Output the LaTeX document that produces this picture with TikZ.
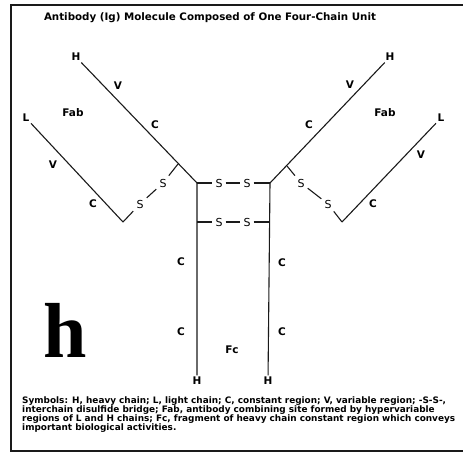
\documentclass[tikz,border=0pt]{standalone}
\usepackage{fontspec}
\setmainfont{DejaVu Sans}
\newfontfamily\bigserif{Liberation Serif}
\usetikzlibrary{positioning}
\definecolor{cInk}{HTML}{1a1a1a}
\tikzset{
  lbl/.style={font=\bfseries\fontsize{10.5}{10.5}\selectfont,inner sep=1.5pt},
  sbond/.style={font=\fontsize{11}{11}\selectfont,inner sep=3pt},
  chain/.style={line width=1.1pt,cInk},
}

\begin{document}
\begin{tikzpicture}[x=1pt,y=-1pt]
  \useasboundingbox (0,0) rectangle (463,457);
  \draw[line width=1.6pt,cInk] (463,5) -- (11,5) -- (11,451) -- (463,451); % frame
  \node[font=\bfseries\fontsize{10.3}{10.3}\selectfont] (title) at (210,18) {Antibody (Ig) Molecule Composed of One Four-Chain Unit};

  % chain ends
  \node[lbl] (hTopL) at (76,57) {H};
  \node[lbl] (hTopR) at (390,57) {H};
  \node[lbl] (lTopL) at (26,118) {L};
  \node[lbl] (lTopR) at (441,118) {L};
  \node[lbl] (hBotL) at (197,381) {H};
  \node[lbl] (hBotR) at (268,381) {H};

  \coordinate (hingeL) at (197,183);
  \coordinate (hingeR) at (270,183);
  \coordinate (bridgeL) at (197,222);
  \coordinate (bridgeR) at (270,222);
  \coordinate (lEndL) at (123,222);
  \coordinate (lEndR) at (342,222);
  \coordinate (hJoinL) at (178,164); % on left heavy chain
  \coordinate (hJoinR) at (287,166); % on right heavy chain

  % disulfide bridges
  \node[sbond] (sA1) at (219,183) {S};
  \node[sbond] (sA2) at (247,183) {S};
  \node[sbond] (sB1) at (219,222) {S};
  \node[sbond] (sB2) at (247,222) {S};
  \node[sbond] (sL1) at (163,183) {S};
  \node[sbond] (sL2) at (140,204) {S};
  \node[sbond] (sR1) at (301,183) {S};
  \node[sbond] (sR2) at (328,204) {S};

  \draw[chain] (hTopL) -- (hingeL) -- (hBotL);
  \draw[chain] (hTopR) -- (hingeR) -- (hBotR);
  \draw[chain] (lTopL) -- (lEndL);
  \draw[chain] (lTopR) -- (lEndR);
  \draw[chain] (hingeL) -- (sA1) -- (sA2) -- (hingeR);
  \draw[chain] (bridgeL) -- (sB1) -- (sB2) -- (bridgeR);
  \draw[chain] (hJoinL) -- (sL1) -- (sL2) -- (lEndL);
  \draw[chain] (hJoinR) -- (sR1) -- (sR2) -- (lEndR);

  % regions
  \node[lbl] (vHL) at (118,86) {V};
  \node[lbl] (cHL) at (155,125) {C};
  \node[lbl] (vLL) at (53,165) {V};
  \node[lbl] (cLL) at (93,204) {C};
  \node[lbl] (vHR) at (350,85) {V};
  \node[lbl] (cHR) at (309,125) {C};
  \node[lbl] (vLR) at (421,155) {V};
  \node[lbl] (cLR) at (373,204) {C};
  \node[lbl] (cFL1) at (181,262) {C};
  \node[lbl] (cFL2) at (181,332) {C};
  \node[lbl] (cFR1) at (282,263) {C};
  \node[lbl] (cFR2) at (282,332) {C};
  \node[lbl] (fabL) at (73,113) {Fab};
  \node[lbl] (fabR) at (385,113) {Fab};
  \node[lbl] (fc) at (232,350) {Fc};

  \node[font=\bigserif\bfseries\fontsize{78}{78}\selectfont,anchor=base,inner sep=0pt] (tag) at (65,357) {h};

  \node[font=\bfseries\fontsize{8.9}{9}\selectfont,align=left,anchor=north west,inner sep=0pt] (legend) at (22,397)
    {Symbols: H, heavy chain; L, light chain; C, constant region; V, variable region; -S-S-,\\
     interchain disulfide bridge; Fab, antibody combining site formed by hypervariable\\
     regions of L and H chains; Fc, fragment of heavy chain constant region which conveys\\
     important biological activities.};
\end{tikzpicture}
\end{document}
